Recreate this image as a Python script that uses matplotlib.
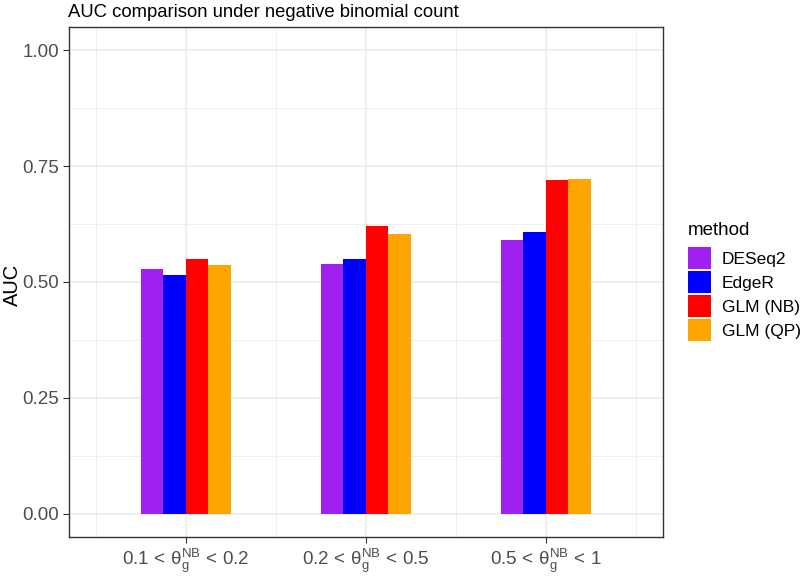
import matplotlib
matplotlib.use("Agg")
import matplotlib.pyplot as plt
from matplotlib.patches import Rectangle
import numpy as np

plt.rcParams['font.family'] = ['Liberation Sans', 'DejaVu Sans']
plt.rcParams['mathtext.fontset'] = 'custom'
plt.rcParams['mathtext.rm'] = 'Liberation Sans'
plt.rcParams['mathtext.it'] = 'Liberation Sans:italic'
plt.rcParams['mathtext.bf'] = 'Liberation Sans:bold'

categories = [r"$\mathrm{0.1\,<\,\theta_{g}^{NB}\,<\,0.2}$",
              r"$\mathrm{0.2\,<\,\theta_{g}^{NB}\,<\,0.5}$",
              r"$\mathrm{0.5\,<\,\theta_{g}^{NB}\,<\,1}$"]
methods = ["DESeq2", "EdgeR", "GLM (NB)", "GLM (QP)"]
deseq2 = [0.528, 0.539, 0.590]
edger = [0.516, 0.550, 0.608]
glm_nb = [0.550, 0.621, 0.720]
glm_qp = [0.537, 0.603, 0.723]
series = [deseq2, edger, glm_nb, glm_qp]
colors = ["#A020F0", "#0000FF", "#FF0000", "#FFA500"]
yticks = [0.00, 0.25, 0.50, 0.75, 1.00]
yticklabels = ["0.00", "0.25", "0.50", "0.75", "1.00"]

W, H = 800, 576
fig = plt.figure(figsize=(8, 5.76), dpi=100)
ax = fig.add_axes([68.5/W, 1-537/H, (663-68.5)/W, (537-27)/H])

x = np.arange(1, len(categories)+1)
bw = 0.125
for i, (vals, c) in enumerate(zip(series, colors)):
    ax.bar(x + (i - 1.5)*bw, vals, width=bw, color=c, edgecolor='none', zorder=3)

ax.set_xlim(0.35, 3.65)
ax.set_ylim(-0.05, 1.05)
ax.set_xticks(x)
ax.set_xticklabels(categories)
ax.set_xticks([0.5, 1.5, 2.5, 3.5], minor=True)
ax.set_yticks(yticks)
ax.set_yticklabels(yticklabels)
ax.set_yticks([0.125, 0.375, 0.625, 0.875], minor=True)
ax.grid(which='major', color='#EBEBEB', linewidth=1.1, zorder=0)
ax.grid(which='minor', color='#EBEBEB', linewidth=0.55, zorder=0)
ax.set_axisbelow(True)
ax.tick_params(which='major', colors='#333333', labelcolor='#4D4D4D', labelsize=13.5, length=4, width=0.8, pad=3)
ax.tick_params(which='minor', length=0)
for s in ax.spines.values():
    s.set_color('#333333')
    s.set_linewidth(1.0)

fig.text(12/W, 1-285/H, "AUC", fontsize=14.5, rotation=90, ha='center', va='center', color='black')
fig.text(68.5/W, 1-17/H, "AUC comparison under negative binomial count", fontsize=13.3,
         ha='left', va='baseline', color='black')

# legend
fig.text(688/W, 1-235/H, "method", fontsize=13.5, ha='left', va='baseline', color='black')
for i, (m, c) in enumerate(zip(methods, colors)):
    top = 247 + i*24
    fig.patches.append(Rectangle((688/W, 1-(top+22)/H), 23/W, 22/H, transform=fig.transFigure,
                                 facecolor=c, edgecolor='none'))
    fig.text(722/W, 1-(top+11)/H, m, fontsize=12.5, ha='left', va='center_baseline', color='black')

fig.savefig("out.png", dpi=100)
